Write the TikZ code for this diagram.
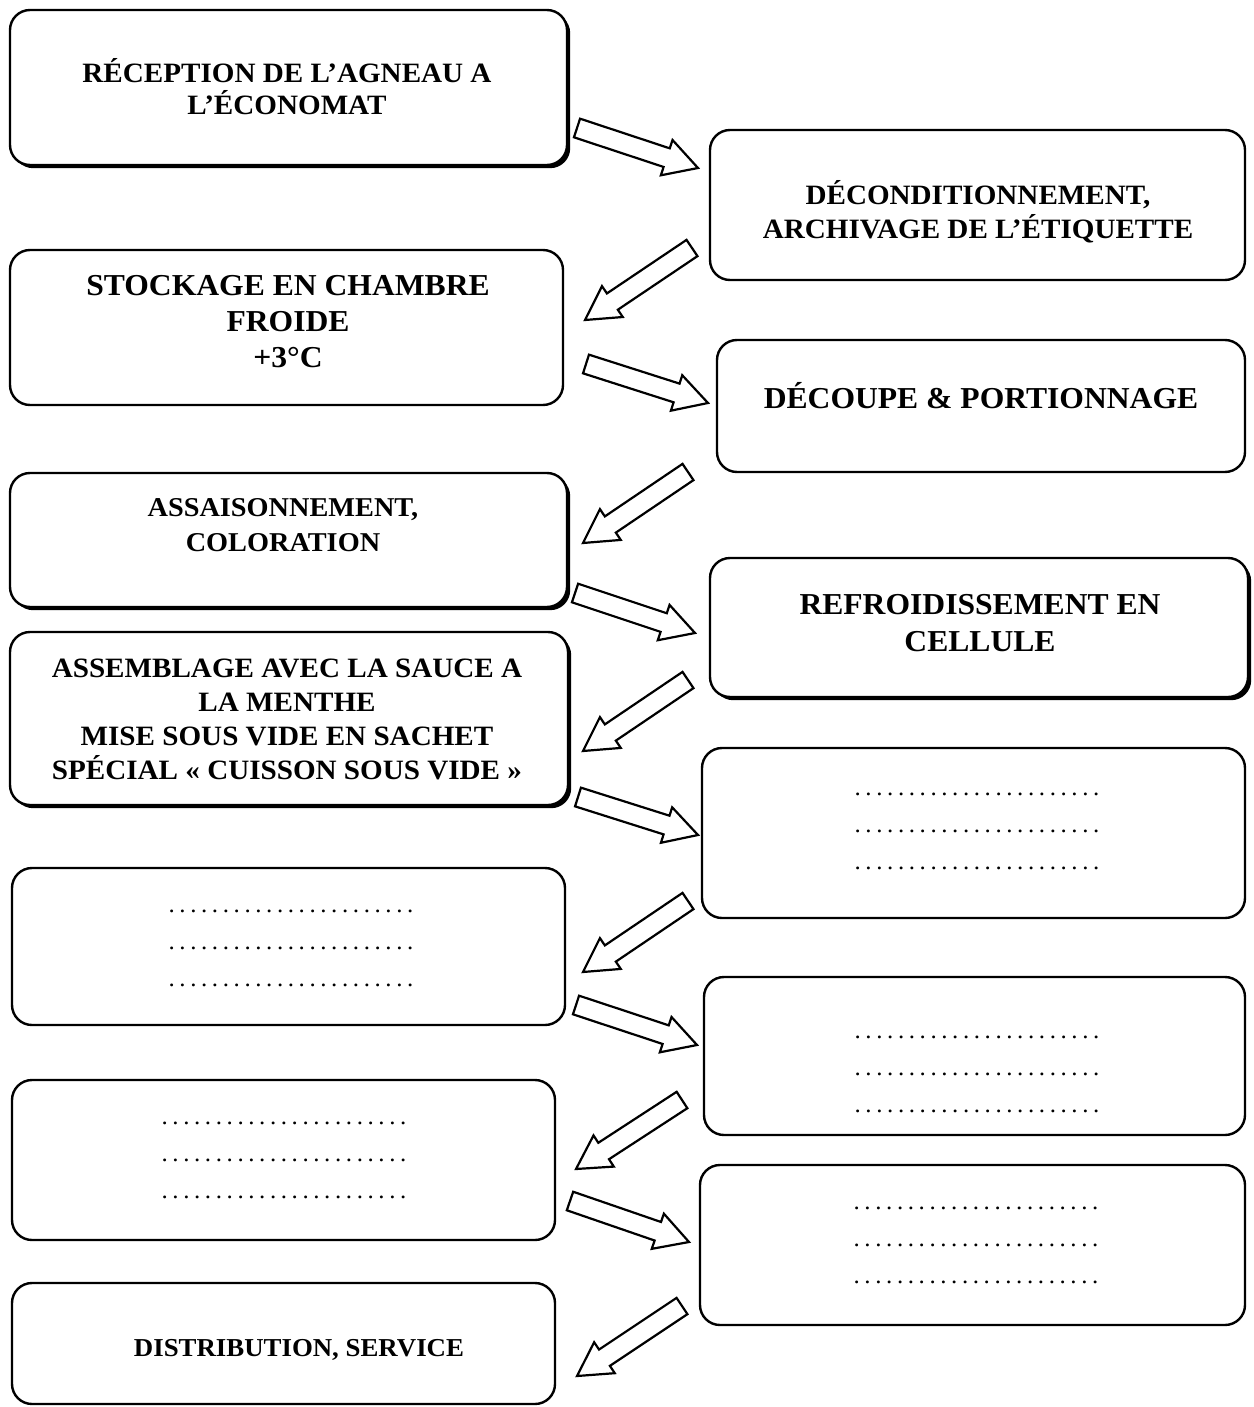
\documentclass[tikz,border=0pt]{standalone}
\usepackage{fontspec}
\setmainfont{Liberation Serif}[FakeStretch=1.04]
\usetikzlibrary{calc,shadows}
\newcommand\dotrowtext{\def\mydot{.\kern2.3pt}\mydot\mydot\mydot\mydot\mydot\mydot\mydot\mydot\mydot\mydot\mydot\mydot\mydot\mydot\mydot\mydot\mydot\mydot\mydot\mydot\mydot\mydot.}
\newcommand\threerows{\dotrowtext\\\dotrowtext\\\dotrowtext}
\newcommand\blockarrow[2]{%
  \coordinate (ban) at ($(#2)!16.5pt!(#1)$);
  \draw[barrow] ($(#1)!4.9pt!90:(#2)$) -- ($(ban)!4.9pt!90:(#2)$) -- ($(ban)!9.3pt!90:(#2)$) -- (#2)
    -- ($(ban)!9.3pt!-90:(#2)$) -- ($(ban)!4.9pt!-90:(#2)$) -- ($(#1)!4.9pt!-90:(#2)$) -- cycle;}
\tikzset{
  box/.style={draw, line width=1.2pt, rounded corners=10pt, fill=white, inner sep=0pt},
  sbox/.style={box, general shadow={shadow xshift=1.6pt, shadow yshift=-1.6pt, fill=black}},
  lbl/.style={font=\bfseries\fontsize{14}{17}\selectfont, align=center, inner sep=0pt},
  dotlbl/.style={font=\fontsize{12}{18.5}\selectfont, align=center, inner sep=0pt},
  barrow/.style={draw, line width=1.1pt, fill=white, line join=miter},
}
\begin{document}
\begin{tikzpicture}[x=0.5pt,y=-0.5pt]
\useasboundingbox (0,0) rectangle (1253,1407);
% boxes
\node[sbox, minimum width=278.5pt, minimum height=77.5pt] (recep) at (288.5,87.5) {};
\node[box, minimum width=267.5pt, minimum height=75pt] (decond) at (977.5,205) {};
\node[box, minimum width=276.5pt, minimum height=77.5pt] (stock) at (286.5,327.5) {};
\node[box, minimum width=264pt, minimum height=66pt] (decoupe) at (981,406) {};
\node[sbox, minimum width=278.5pt, minimum height=67pt] (assais) at (288.5,540) {};
\node[sbox, minimum width=269pt, minimum height=69.5pt] (refroid) at (979,627.5) {};
\node[sbox, minimum width=279pt, minimum height=86.5pt] (assemb) at (289,718.5) {};
\node[box, minimum width=271.5pt, minimum height=85pt] (r1) at (973.5,833) {};
\node[box, minimum width=276.5pt, minimum height=78.5pt] (l1) at (288.5,946.5) {};
\node[box, minimum width=270.5pt, minimum height=79pt] (r2) at (974.5,1056) {};
\node[box, minimum width=271.5pt, minimum height=80pt] (l2) at (283.5,1160) {};
\node[box, minimum width=272.5pt, minimum height=80pt] (r3) at (972.5,1245) {};
\node[box, minimum width=271.5pt, minimum height=60.5pt] (distrib) at (283.5,1343.5) {};
% texts
\node[lbl, font=\bfseries\fontsize{14}{16}\selectfont] (t1) at (287,87) {RÉCEPTION DE L’AGNEAU A\\L’ÉCONOMAT};
\node[lbl] (t2) at (978,212) {DÉCONDITIONNEMENT,\\ARCHIVAGE DE L’ÉTIQUETTE};
\node[lbl, font=\bfseries\fontsize{15.2}{18}\selectfont] (t3) at (288,322) {STOCKAGE EN CHAMBRE\\FROIDE\\+3°C};
\node[lbl, font=\bfseries\fontsize{15.2}{18}\selectfont] (t4) at (981,396) {DÉCOUPE \& PORTIONNAGE};
\node[lbl, font=\bfseries\fontsize{13.6}{17.5}\selectfont] (t5) at (283,525) {ASSAISONNEMENT,\\COLORATION};
\node[lbl, font=\bfseries\fontsize{15.2}{18.5}\selectfont] (t6) at (980,623) {REFROIDISSEMENT EN\\CELLULE};
\node[lbl] (t7) at (287,719) {ASSEMBLAGE AVEC LA SAUCE A\\LA MENTHE\\MISE SOUS VIDE EN SACHET\\SPÉCIAL « CUISSON SOUS VIDE »};
\node[lbl, font=\bfseries\fontsize{12.9}{16}\selectfont] (t8) at (299,1350) {DISTRIBUTION, SERVICE};
\node[dotlbl] (d1) at (977,831) {\threerows};
\node[dotlbl] (d2) at (291,948) {\threerows};
\node[dotlbl] (d3) at (977,1074) {\threerows};
\node[dotlbl] (d4) at (284,1160) {\threerows};
\node[dotlbl] (d5) at (976,1245) {\threerows};
% arrow end points
\coordinate (a1s) at (577,128);  \coordinate (a1e) at (698,168);
\coordinate (a2s) at (692,248);  \coordinate (a2e) at (585,320);
\coordinate (a3s) at (586,364);  \coordinate (a3e) at (708,403);
\coordinate (a4s) at (688,472);  \coordinate (a4e) at (583,543);
\coordinate (a5s) at (575,593);  \coordinate (a5e) at (695,633);
\coordinate (a6s) at (688,680);  \coordinate (a6e) at (583,751);
\coordinate (a7s) at (578,797);  \coordinate (a7e) at (698,835);
\coordinate (a8s) at (688,901);  \coordinate (a8e) at (583,972);
\coordinate (a9s) at (576,1005); \coordinate (a9e) at (697,1045);
\coordinate (a10s) at (682,1100); \coordinate (a10e) at (576,1169);
\coordinate (a11s) at (570,1201); \coordinate (a11e) at (689,1242);
\coordinate (a12s) at (682,1306); \coordinate (a12e) at (577,1376);
\blockarrow{a1s}{a1e}
\blockarrow{a2s}{a2e}
\blockarrow{a3s}{a3e}
\blockarrow{a4s}{a4e}
\blockarrow{a5s}{a5e}
\blockarrow{a6s}{a6e}
\blockarrow{a7s}{a7e}
\blockarrow{a8s}{a8e}
\blockarrow{a9s}{a9e}
\blockarrow{a10s}{a10e}
\blockarrow{a11s}{a11e}
\blockarrow{a12s}{a12e}
\end{tikzpicture}
\end{document}
